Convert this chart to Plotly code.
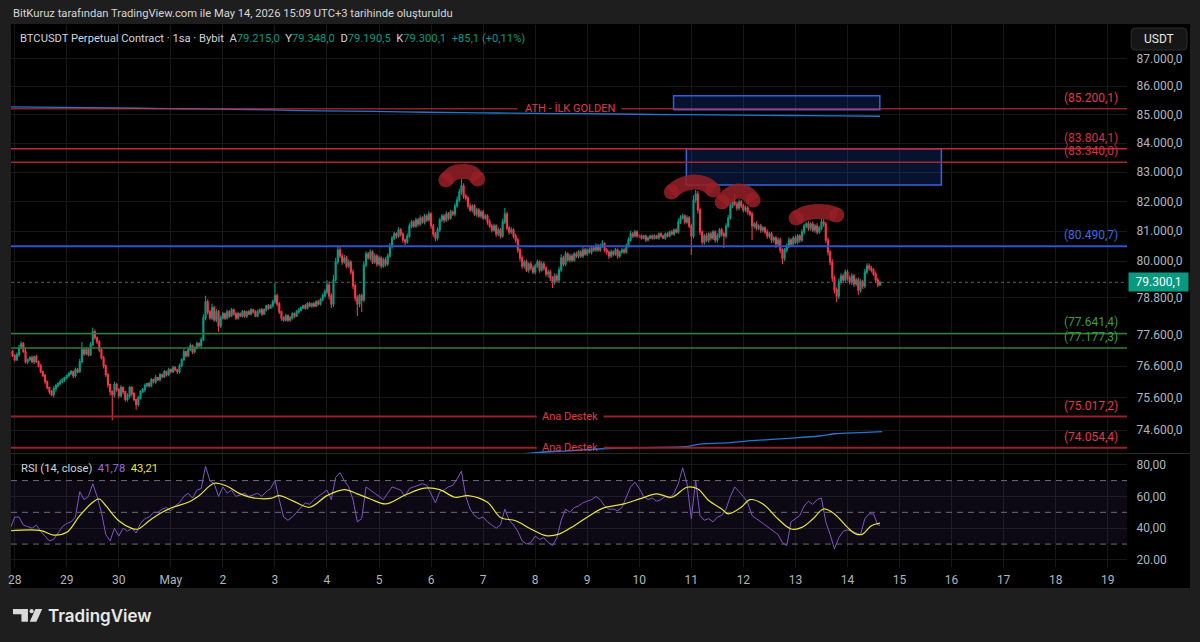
import numpy as np
import pandas as pd
import plotly.graph_objects as go

W, H = 1200, 642
START = pd.Timestamp("2026-04-28 00:00")

def t(h):
    return START + pd.to_timedelta(h, unit="h")

# ---------------- DATA ----------------
first_open = 77000
# hourly closes, first candle opens 2026-04-27 22:00
closes = (
    [77055, 76928]
    + [76801, 76960, 77182, 77309, 77055, 76738, 76801, 76864, 76738, 76896, 76738, 76611,
       76422, 76296, 76107, 75920, 75795, 75701, 75888, 75982, 76045, 76107, 76170, 76233]  # Apr 28
    + [76296, 76359, 76422, 76296, 76485, 76422, 76738, 77118, 76991, 77118, 76960, 77277,
       77693, 77501, 77373, 77118, 76864, 76611, 76327, 76013, 75795, 75701, 76013, 75857]  # Apr 29
    + [75670, 75920, 75795, 75545, 75670, 75920, 75732, 75545, 75390, 75607, 75795, 75857,
       75982, 76045, 75982, 76170, 76107, 76233, 76170, 76327, 76264, 76422, 76327, 76485]  # Apr 30
    + [76422, 76548, 76485, 76422, 76611, 76801, 77055, 76928, 77118, 77245, 77055, 77182,
       77309, 77245, 77437, 78143, 78660, 78336, 78143, 78466, 78078, 78336, 77885, 78143]  # May 1
    + [78272, 78143, 78336, 78207, 78401, 78272, 78143, 78272, 78207, 78336, 78207, 78336,
       78272, 78401, 78336, 78207, 78336, 78401, 78272, 78401, 78530, 78466, 78530, 78660]  # May 2
    + [78856, 78595, 78336, 78143, 78078, 78207, 78078, 78143, 78272, 78207, 78336, 78401,
       78466, 78530, 78466, 78595, 78530, 78595, 78530, 78660, 78595, 78725, 78856, 78986]  # May 3
    + [79214, 78856, 78595, 79378, 79970, 80367, 80168, 79970, 80102, 79838, 79970, 79640,
       79182, 78790, 78595, 78856, 78725, 79871, 80234, 80102, 80301, 79970, 80168, 79904]  # May 4
    + [80102, 79838, 80036, 79904, 80168, 80500, 80767, 80900, 80834, 81034, 80900, 80700,
       80633, 80834, 81168, 81303, 81168, 81370, 81235, 81437, 81303, 81505, 81370, 81572]  # May 5
    + [81168, 80900, 80767, 81034, 81370, 81505, 81370, 81572, 81437, 81640, 81572, 81843,
       82046, 82319, 82524, 82182, 82114, 81843, 81707, 81843, 81572, 81707, 81505, 81640]  # May 6
    + [81437, 81505, 81303, 81168, 81034, 81168, 80900, 81034, 80834, 81303, 81572, 81101,
       80967, 81034, 80834, 80700, 80367, 80102, 79838, 79970, 79706, 79904, 79772, 79640]  # May 7
    + [79838, 79970, 79706, 79904, 79772, 79575, 79640, 79444, 79313, 79509, 79378, 79706,
       80102, 79904, 80234, 80036, 80168, 80036, 80234, 80168, 80301, 80168, 80367, 80234]  # May 8
    + [80367, 80301, 80434, 80367, 80500, 80367, 80500, 80566, 80367, 80301, 80168, 80301,
       80234, 80367, 80168, 80301, 80367, 80301, 80500, 80700, 80900, 80834, 80967, 80834]  # May 9
    + [80834, 80767, 80834, 80700, 80767, 80834, 80767, 80834, 80767, 80900, 80834, 80767,
       80900, 80834, 80967, 80900, 81034, 80967, 81303, 81437, 81505, 81303, 81437, 81168]  # May 10
    + [80834, 82046, 82251, 81707, 80967, 80633, 80834, 80700, 80900, 80767, 80967, 80700,
       80834, 81034, 80900, 80834, 81168, 81437, 81843, 81978, 81910, 81775, 81978, 81843]  # May 11
    + [81707, 81775, 81640, 81572, 81168, 81235, 81101, 81168, 81034, 81101, 80967, 80834,
       80900, 80700, 80767, 80566, 80700, 80367, 80102, 80367, 80500, 80700, 80566, 80767]  # May 12
    + [80633, 80834, 80700, 80967, 81168, 81235, 81101, 81235, 81034, 81168, 80967, 81101,
       81303, 81235, 80700, 80301, 79970, 79444, 79051, 78856, 79313, 79509, 79378, 79640]  # May 13
    + [79444, 79313, 79509, 79247, 79378, 79051, 79313, 79182, 79640, 79838, 79772, 79706,
       79575, 79378, 79215, 79300.1]  # May 14
)
# upper wick length above the candle body (USD)
upper_wicks = (
    [40, 60]
    + [50, 70, 90, 80, 60, 120, 40, 50, 70, 30, 60, 40, 50, 30, 60, 40, 30, 50, 80, 60, 40, 70, 50, 30]
    + [40, 60, 50, 30, 70, 50, 90, 250, 60, 80, 50, 90, 130, 70, 40, 50, 30, 60, 40, 50, 30, 40, 90, 60]
    + [50, 80, 40, 30, 70, 60, 40, 50, 30, 60, 40, 50, 70, 30, 60, 50, 40, 80, 30, 60, 40, 50, 30, 60]
    + [40, 70, 50, 30, 60, 50, 90, 40, 60, 80, 40, 50, 70, 60, 80, 120, 200, 90, 60, 130, 70, 90, 60, 80]
    + [60, 40, 70, 50, 60, 40, 50, 70, 40, 60, 50, 40, 70, 60, 40, 50, 70, 40, 60, 50, 40, 60, 50, 70]
    + [420, 80, 60, 40, 50, 70, 40, 60, 50, 40, 60, 70, 50, 40, 60, 50, 70, 40, 60, 50, 70, 60, 80, 90]
    + [150, 120, 90, 160, 140, 110, 90, 80, 100, 70, 90, 60, 80, 70, 90, 60, 80, 120, 90, 70, 80, 60, 90, 70]
    + [80, 60, 70, 90, 80, 100, 70, 80, 60, 90, 70, 60, 50, 80, 90, 70, 60, 80, 70, 90, 60, 80, 70, 90]
    + [60, 80, 70, 90, 80, 70, 60, 90, 70, 80, 60, 90, 120, 110, 270, 90, 80, 60, 90, 70, 60, 80, 70, 60]
    + [80, 70, 60, 90, 70, 80, 60, 90, 70, 110, 200, 80, 70, 90, 60, 80, 70, 60, 90, 70, 80, 60, 70, 90]
    + [70, 80, 60, 90, 70, 60, 80, 70, 60, 90, 80, 110, 120, 70, 90, 60, 80, 70, 60, 80, 70, 60, 90, 70]
    + [60, 80, 70, 60, 90, 70, 80, 130, 60, 70, 50, 80, 60, 70, 50, 60, 70, 60, 80, 90, 100, 70, 80, 60]
    + [50, 60, 40, 50, 60, 40, 50, 60, 40, 50, 60, 40, 50, 60, 40, 70, 50, 60, 120, 90, 80, 60, 90, 70]
    + [80, 160, 140, 100, 80, 60, 70, 90, 60, 80, 70, 60, 90, 70, 80, 60, 90, 100, 120, 90, 270, 80, 90, 70]
    + [80, 90, 70, 60, 80, 70, 90, 60, 80, 70, 60, 90, 70, 80, 60, 70, 90, 80, 60, 70, 80, 90, 60, 70]
    + [80, 70, 60, 90, 80, 70, 90, 60, 80, 70, 90, 80, 110, 90, 70, 80, 60, 90, 70, 80, 120, 90, 70, 80]
    + [70, 80, 90, 60, 70, 80, 90, 70, 100, 90, 80, 70, 60, 80, 70, 47.9]
)
# lower wick length below the candle body (USD)
lower_wicks = (
    [50, 40]
    + [60, 40, 70, 50, 30, 60, 80, 40, 50, 70, 40, 60, 50, 40, 70, 60, 80, 50, 90, 100, 60, 50, 40, 70]
    + [60, 50, 40, 70, 60, 50, 40, 60, 70, 50, 60, 40, 50, 60, 70, 80, 60, 90, 70, 100, 120, 800, 90, 70]
    + [80, 60, 90, 70, 60, 80, 90, 60, 160, 70, 60, 50, 80, 60, 70, 50, 60, 70, 40, 60, 50, 40, 60, 50]
    + [60, 40, 50, 70, 60, 50, 40, 60, 50, 40, 70, 60, 50, 40, 60, 50, 80, 90, 60, 70, 60, 80, 190, 70]
    + [60, 70, 50, 60, 40, 50, 70, 60, 40, 50, 60, 70, 40, 50, 60, 40, 50, 60, 70, 40, 50, 60, 40, 50]
    + [60, 80, 70, 90, 60, 50, 70, 60, 50, 70, 40, 60, 50, 40, 60, 50, 40, 60, 50, 40, 60, 50, 40, 50]
    + [80, 120, 140, 100, 60, 80, 70, 90, 60, 80, 70, 90, 100, 120, 390, 110, 390, 80, 70, 60, 80, 70, 60, 90]
    + [70, 80, 60, 90, 70, 60, 80, 70, 90, 60, 80, 90, 100, 70, 60, 80, 70, 60, 90, 70, 60, 80, 70, 60]
    + [90, 100, 120, 80, 70, 60, 90, 70, 80, 60, 70, 80, 60, 70, 90, 100, 80, 90, 70, 80, 60, 90, 70, 80]
    + [70, 60, 90, 70, 80, 60, 90, 70, 80, 60, 70, 80, 90, 70, 80, 90, 100, 120, 90, 80, 70, 90, 80, 70]
    + [80, 70, 90, 60, 80, 90, 120, 100, 200, 90, 80, 70, 60, 80, 70, 60, 80, 70, 60, 70, 80, 60, 70, 60]
    + [70, 60, 80, 60, 70, 60, 70, 60, 80, 90, 100, 70, 80, 60, 90, 70, 60, 70, 60, 50, 60, 70, 50, 60]
    + [60, 50, 40, 60, 50, 40, 60, 50, 40, 60, 50, 40, 60, 50, 40, 50, 60, 40, 60, 70, 50, 80, 60, 70]
    + [630, 80, 90, 120, 100, 90, 80, 70, 90, 80, 70, 90, 80, 70, 90, 400, 80, 70, 60, 80, 70, 90, 80, 70]
    + [80, 70, 90, 80, 470, 90, 80, 70, 90, 80, 70, 90, 80, 100, 90, 120, 80, 110, 200, 90, 80, 70, 90, 80]
    + [70, 80, 90, 70, 80, 70, 90, 80, 70, 90, 80, 70, 80, 90, 100, 120, 110, 130, 120, 200, 100, 90, 110, 80]
    + [90, 80, 100, 90, 80, 160, 90, 100, 80, 70, 90, 80, 70, 90, 80, 24.5]
)
assert len(closes) == len(upper_wicks) == len(lower_wicks) == 402, (len(closes), len(upper_wicks), len(lower_wicks))

# RSI(14) read every 2 hours from 2026-04-27 22:00, plus last bar
rsi_values = [
    40, 47, 47, 42, 41, 40, 42, 38, 35, 32, 33, 37, 41, 43, 44, 47, 63, 58, 60, 68,
    60, 50, 36, 32, 40, 35, 40, 38, 40, 37, 43, 46, 47, 50, 50, 52, 53, 51, 54, 56,
    60, 62, 59, 64, 65, 79, 70, 68, 60, 66, 62, 64, 60, 61, 62, 60, 61, 62, 60, 63,
    65, 70, 58, 47, 45, 47, 50, 53, 56, 55, 58, 60, 62, 64, 58, 72, 75, 70, 66, 58,
    44, 46, 66, 64, 62, 60, 58, 62, 66, 65, 64, 60, 65, 66, 67, 68, 67, 62, 56, 63,
    64, 66, 67, 71, 76, 60, 52, 48, 46, 47, 44, 42, 40, 42, 52, 45, 42, 38, 32, 30,
    31, 35, 33, 34, 31, 29, 34, 45, 52, 50, 53, 54, 56, 57, 58, 60, 58, 54, 52, 52,
    51, 53, 59, 66, 69, 65, 60, 58, 59, 57, 58, 60, 59, 62, 68, 78, 68, 46, 70, 48,
    45, 46, 44, 47, 48, 52, 60, 66, 63, 60, 56, 48, 46, 44, 42, 40, 38, 36, 31, 29,
    44, 46, 48, 54, 57, 55, 58, 59, 44, 36, 27, 34, 38, 39, 38, 37, 36, 46, 49, 49,
    42, 41.78,
]
rsi_ma_hours = [-2, 12, 18, 24, 30, 36, 39, 42, 48, 54, 57, 62, 68, 73, 80, 85, 92, 98, 104, 110,
                118, 122, 128, 136, 144, 152, 158, 164, 171, 180, 189, 196, 203, 209, 218, 224, 231,
                238, 245, 251, 258, 265, 271, 281, 289, 296, 303, 310, 315, 320, 326, 329, 335, 339,
                345, 352, 358, 363, 368, 373, 378, 384, 388, 391, 395, 399]
rsi_ma_values = [38.4, 38.5, 35.7, 37.4, 47.9, 56.3, 58.4, 54.2, 44.7, 39.9, 39.5, 44.7, 50.0, 53.2,
                 56.3, 60.5, 68.3, 66.4, 61.6, 59.1, 58.8, 60.5, 57.4, 53.2, 60.5, 64.3, 61.6, 58.4,
                 55.3, 60.9, 65.2, 64.3, 59.5, 60.5, 56.3, 46.8, 44.7, 39.5, 35.3, 36.3, 41.6, 47.9,
                 52.5, 55.3, 58.8, 61.6, 59.5, 65.8, 64.7, 57.4, 52.1, 49.0, 53.2, 58.0, 55.3, 45.8,
                 39.5, 40.5, 45.8, 52.1, 49.0, 40.5, 36.3, 36.3, 41.6, 43.21]

# slow moving-average lines (hours from Apr 28 00:00, price)
ma_top_hours = [-2, 22, 46, 70, 94, 118, 142, 166, 190, 214, 238, 262, 286, 310, 334, 358, 382, 399]
ma_top_values = [85270, 85250, 85230, 85210, 85190, 85160, 85130, 85110, 85080, 85060, 85040,
                 85030, 85010, 84995, 84980, 84965, 84950, 84940]
ma_low_hours = [230, 240, 255, 271, 290, 309, 316, 330, 340, 355, 371, 378, 390, 400]
ma_low_values = [73840, 73905, 73960, 74024, 74060, 74085, 74168, 74214, 74270, 74337, 74415,
                 74485, 74521, 74547]

# horizontal levels
ath_level = 85200.1
res_levels = [83804.1, 83340.0]
mid_level = 80490.7
green_levels = [77641.4, 77177.3]
support_levels = [75017.2, 74054.4]
last_price = 79300.1

# zones (hours, prices)
zone1 = dict(h0=303.8, h1=398.9, p0=85170, p1=85664)
zone2 = dict(h0=309.7, h1=427.3, p0=82557, p1=83804.1)

# brush marks over the tops (hours, prices)
arcs = [
    ([198.8, 202.5, 207.1, 210.8, 213.5], [82728, 82968, 83019, 82968, 82762]),
    ([302.8, 307.4, 312.9, 318.4, 322.1], [82318, 82557, 82660, 82591, 82387]),
    ([326.2, 329.4, 333.6, 337.3, 340.5], [81978, 82217, 82352, 82284, 82046]),
    ([360.3, 364.9, 369.5, 374.5, 379.1], [81437, 81606, 81657, 81640, 81538]),
]

price_ticks = [87000, 86000, 85000, 84000, 83000, 82000, 81000, 80000, 78800, 77600, 76600, 75600, 74600]
day_labels = ["28", "29", "30", "May", "2", "3", "4", "5", "6", "7", "8", "9", "10", "11", "12",
              "13", "14", "15", "16", "17", "18", "19"]

# ---------------- derived ----------------
times = pd.date_range(t(-2), periods=len(closes), freq="h")
opens = [first_open] + closes[:-1]
highs = [max(o, c) + w for o, c, w in zip(opens, closes, upper_wicks)]
lows = [min(o, c) - w for o, c, w in zip(opens, closes, lower_wicks)]
rsi_times = list(times[::2]) + [times[-1]]
day_ticks = [t(24 * i) for i in range(len(day_labels))]

X_LO, X_HI = t(-1.71), t(512.97)
BG_OUT = "#1e1e1e"
GRID = "#171717"
TXT = "#b2b5be"
UP, DN = "#089981", "#f23645"
FONT = "Roboto"
ARC = "rgba(150,32,40,0.86)"

def fmt(v):
    s = f"{v:,.1f}"
    return s.replace(",", "X").replace(".", ",").replace("X", ".")

fig = go.Figure()

def hline(y, color, width, x0=X_LO, x1=X_HI, dash=None, ax="y"):
    fig.add_trace(go.Scatter(x=[x0, x1], y=[y, y], mode="lines",
                             line=dict(color=color, width=width, dash=dash),
                             hoverinfo="skip", showlegend=False, xaxis="x" if ax == "y" else "x2", yaxis=ax))

# RSI band and levels
fig.add_trace(go.Scatter(x=[X_LO, X_HI, X_HI, X_LO, X_LO], y=[30, 30, 70, 70, 30], fill="toself",
                         fillcolor="rgba(126,87,194,0.10)", line=dict(width=0), mode="lines",
                         hoverinfo="skip", showlegend=False, xaxis="x2", yaxis="y2"))
for lvl in (70, 50, 30):
    hline(lvl, "#6a6d78", 1, dash="6px,5px", ax="y2")

# zones
for z, fill, edge in ((zone1, "rgba(41,98,255,0.18)", "#2f5fe0"), (zone2, "rgba(41,98,255,0.18)", "#3565dc")):
    fig.add_trace(go.Scatter(x=[t(z["h0"]), t(z["h1"]), t(z["h1"]), t(z["h0"]), t(z["h0"])],
                             y=[z["p0"], z["p0"], z["p1"], z["p1"], z["p0"]], fill="toself",
                             fillcolor=fill, line=dict(color=edge, width=1.5), mode="lines",
                             hoverinfo="skip", showlegend=False))

# dotted last price line
hline(last_price, "#5d606b", 1, dash="dot")

# candles
fig.add_trace(go.Candlestick(x=times, open=opens, high=highs, low=lows, close=closes,
                             increasing=dict(line=dict(color=UP, width=1.1), fillcolor=UP),
                             decreasing=dict(line=dict(color=DN, width=1.1), fillcolor=DN),
                             whiskerwidth=0, hoverinfo="skip", showlegend=False))

# moving average lines
fig.add_trace(go.Scatter(x=[t(h) for h in ma_top_hours], y=ma_top_values, mode="lines",
                         line=dict(color="#2176d2", width=1.3, shape="spline"), hoverinfo="skip", showlegend=False))
fig.add_trace(go.Scatter(x=[t(h) for h in ma_low_hours], y=ma_low_values, mode="lines",
                         line=dict(color="#2176d2", width=1.3, shape="spline"), hoverinfo="skip", showlegend=False))

# horizontal levels (text gaps)
gap_ath = (t(231.9), t(279.8))
gap_sup = (t(240.7), t(271.5))
hline(ath_level, "#d8323f", 1, X_LO, gap_ath[0])
hline(ath_level, "#d8323f", 1, gap_ath[1], X_HI)
hline(res_levels[0], "#c02b38", 1.5)
hline(res_levels[1], "#a52630", 1.5)
hline(mid_level, "#2b55cf", 2)
for g in green_levels:
    hline(g, "#2f7d34", 1.5)
for s in support_levels:
    hline(s, "#9b1f2a", 2, X_LO, gap_sup[0])
    hline(s, "#9b1f2a", 2, gap_sup[1], X_HI)

# brush arcs
for hs, ps in arcs:
    xs = [t(h) for h in hs]
    fig.add_trace(go.Scatter(x=xs, y=ps, mode="lines", line=dict(color=ARC, width=15, shape="spline"),
                             hoverinfo="skip", showlegend=False))
    fig.add_trace(go.Scatter(x=[xs[0], xs[-1]], y=[ps[0], ps[-1]], mode="markers",
                             marker=dict(color=ARC, size=15, line=dict(width=0)),
                             hoverinfo="skip", showlegend=False))

# RSI
fig.add_trace(go.Scatter(x=rsi_times, y=rsi_values, mode="lines", line=dict(color="#7e57c2", width=1),
                         hoverinfo="skip", showlegend=False, xaxis="x2", yaxis="y2"))
fig.add_trace(go.Scatter(x=[t(h) for h in rsi_ma_hours], y=rsi_ma_values, mode="lines",
                         line=dict(color="#e6e63a", width=1.2, shape="spline"),
                         hoverinfo="skip", showlegend=False, xaxis="x2", yaxis="y2"))

# ---------------- layout ----------------
XD = [8 / W, 1127 / W]
axis_font = dict(family=FONT, size=12, color=TXT)
fig.update_layout(
    width=W, height=H, margin=dict(l=0, r=0, t=0, b=0),
    paper_bgcolor=BG_OUT, plot_bgcolor="#000000",
    font=dict(family=FONT, color=TXT),
    showlegend=False,
    xaxis=dict(domain=XD, anchor="y", type="date", range=[X_LO, X_HI], tickvals=day_ticks,
               showticklabels=False, showgrid=True, gridcolor=GRID, gridwidth=1, zeroline=False,
               showline=False, ticks="", rangeslider=dict(visible=False)),
    xaxis2=dict(domain=XD, anchor="y2", type="date", range=[X_LO, X_HI], tickvals=day_ticks,
                ticktext=day_labels, tickfont=axis_font, showgrid=True, gridcolor=GRID, gridwidth=1,
                zeroline=False, showline=False, ticks="outside", ticklen=2, tickcolor="rgba(0,0,0,0)"),
    yaxis=dict(domain=[1 - 453 / H, 1 - 25 / H], anchor="x", type="log", range=[4.868607, 4.945502],
               side="right", tickvals=price_ticks, ticktext=[fmt(v) for v in price_ticks],
               tickfont=axis_font, showgrid=True, gridcolor=GRID, zeroline=False, showline=False,
               ticks="outside", ticklen=6, tickcolor="rgba(0,0,0,0)"),
    yaxis2=dict(domain=[1 - 567 / H, 1 - 454 / H], anchor="x2", range=[15.56, 86.74], side="right",
                tickvals=[80, 60, 40, 20], ticktext=["80,00", "60,00", "40,00", "20.00"],
                tickfont=axis_font, showgrid=True, gridcolor=GRID, zeroline=False, showline=False,
                ticks="outside", ticklen=6, tickcolor="rgba(0,0,0,0)"),
)

def rrect(x0, y0, x1, y1, r):
    X0, X1 = x0 / W, x1 / W
    Y0, Y1 = 1 - y0 / H, 1 - y1 / H
    rx, ry = r / W, r / H
    return (f"M{X0+rx},{Y0} L{X1-rx},{Y0} Q{X1},{Y0} {X1},{Y0-ry} L{X1},{Y1+ry} Q{X1},{Y1} {X1-rx},{Y1} "
            f"L{X0+rx},{Y1} Q{X0},{Y1} {X0},{Y1+ry} L{X0},{Y0-ry} Q{X0},{Y0} {X0+rx},{Y0} Z")

shapes = [
    dict(type="rect", xref="paper", yref="paper", x0=8 / W, x1=1190 / W, y0=1 - 588 / H, y1=1 - 24 / H,
         fillcolor="#000000", line=dict(width=0), layer="below"),
    dict(type="line", xref="paper", yref="paper", x0=8 / W, x1=1190 / W, y0=1 - 453.5 / H, y1=1 - 453.5 / H,
         line=dict(color="#2a2a2a", width=1)),
    dict(type="path", xref="paper", yref="paper", path=rrect(1131, 28, 1187, 50, 4),
         fillcolor="#161616", line=dict(color="#2e2e2e", width=1)),
    # TradingView logo
    dict(type="path", xref="paper", yref="paper",
         path=f"M{10/W},{1-609/H} L{25/W},{1-609/H} L{25/W},{1-621.7/H} L{18.5/W},{1-621.7/H} L{18.5/W},{1-614.3/H} L{10/W},{1-614.3/H} Z",
         fillcolor="#d9d9d9", line=dict(width=0)),
    dict(type="circle", xref="paper", yref="paper", x0=26.6 / W, x1=30.8 / W, y0=1 - 613.3 / H, y1=1 - 609.1 / H,
         fillcolor="#d9d9d9", line=dict(width=0)),
    dict(type="path", xref="paper", yref="paper",
         path=f"M{32.5/W},{1-609/H} L{39.3/W},{1-609/H} L{33.5/W},{1-621.7/H} L{26.8/W},{1-621.7/H} Z",
         fillcolor="#d9d9d9", line=dict(width=0)),
]
fig.update_layout(shapes=shapes)

teal = "#089981"
sp = "\u00a0"
legend_text = (
    f"BTCUSDT Perpetual Contract · 1sa · Bybit{sp}{sp}"
    f"A<span style='color:{teal}'>79.215,0</span>{sp}{sp}"
    f"Y<span style='color:{teal}'>79.348,0</span>{sp}{sp}"
    f"D<span style='color:{teal}'>79.190,5</span>{sp}{sp}"
    f"K<span style='color:{teal}'>79.300,1</span>{sp}{sp}"
    f"<span style='color:{teal}'>+85,1 (+0,11%)</span>"
)

ann = [
    dict(xref="paper", yref="paper", x=8 / W, y=1 - 13.5 / H, xanchor="left", yanchor="middle",
         text="BitKuruz tarafından TradingView.com ile May 14, 2026 15:09 UTC+3 tarihinde oluşturuldu",
         showarrow=False, font=dict(family=FONT, size=11.2, color="#d6d6d6")),
    dict(xref="paper", yref="paper", x=15 / W, y=1 - 38.3 / H, xanchor="left", yanchor="middle",
         text=legend_text, showarrow=False, font=dict(family=FONT, size=11.2, color="#d1d4dc")),
    dict(xref="paper", yref="paper", x=1159 / W, y=1 - 39 / H, xanchor="center", yanchor="middle",
         text="USDT", showarrow=False, font=dict(family=FONT, size=12, color="#e6e6e6")),
    dict(xref="paper", yref="paper", x=16 / W, y=1 - 468.3 / H, xanchor="left", yanchor="middle",
         text=f"RSI (14, close){sp}{sp}<span style='color:#9a6fe0'>41,78</span>{sp}{sp}<span style='color:#e6e63a'>43,21</span>",
         showarrow=False, font=dict(family=FONT, size=11.2, color="#d1d4dc")),
    dict(xref="paper", yref="y", x=1128 / W, y=np.log10(last_price), xanchor="left", yanchor="middle",
         text=fmt(last_price), showarrow=False, bgcolor=teal, width=55, borderpad=2,
         font=dict(family=FONT, size=12, color="#ffffff")),
    dict(xref="paper", yref="paper", x=43 / W, y=1 - 615.5 / H, xanchor="left", yanchor="middle",
         text="TradingView", showarrow=False, font=dict(family="Inter", size=17, color="#e8e8e8", weight=600)),
]
# labels on the horizontal levels
level_labels = [(ath_level, "#e03a48"), (res_levels[0], "#d4303e"), (res_levels[1], "#d4303e"),
                (mid_level, "#3a6ae8"), (green_levels[0], "#3f9b46"), (green_levels[1], "#3f9b46"),
                (support_levels[0], "#e03a48"), (support_levels[1], "#e03a48")]
for v, c in level_labels:
    ann.append(dict(xref="x domain", yref="y", x=0.9937, y=np.log10(v), xanchor="right", yanchor="bottom",
                    yshift=2, text=f"({fmt(v)})", showarrow=False, font=dict(family=FONT, size=12, color=c)))
ann.append(dict(xref="x domain", yref="y", x=0.5004, y=np.log10(ath_level), xanchor="center", yanchor="middle",
                text="ATH - İLK GOLDEN", showarrow=False, font=dict(family=FONT, size=11, color="#e03a48")))
for s in support_levels:
    ann.append(dict(xref="x domain", yref="y", x=0.5004, y=np.log10(s), xanchor="center", yanchor="middle",
                    text="Ana Destek", showarrow=False, font=dict(family=FONT, size=11, color="#e03a48")))
fig.update_layout(annotations=ann)

fig.write_html("out.html")
